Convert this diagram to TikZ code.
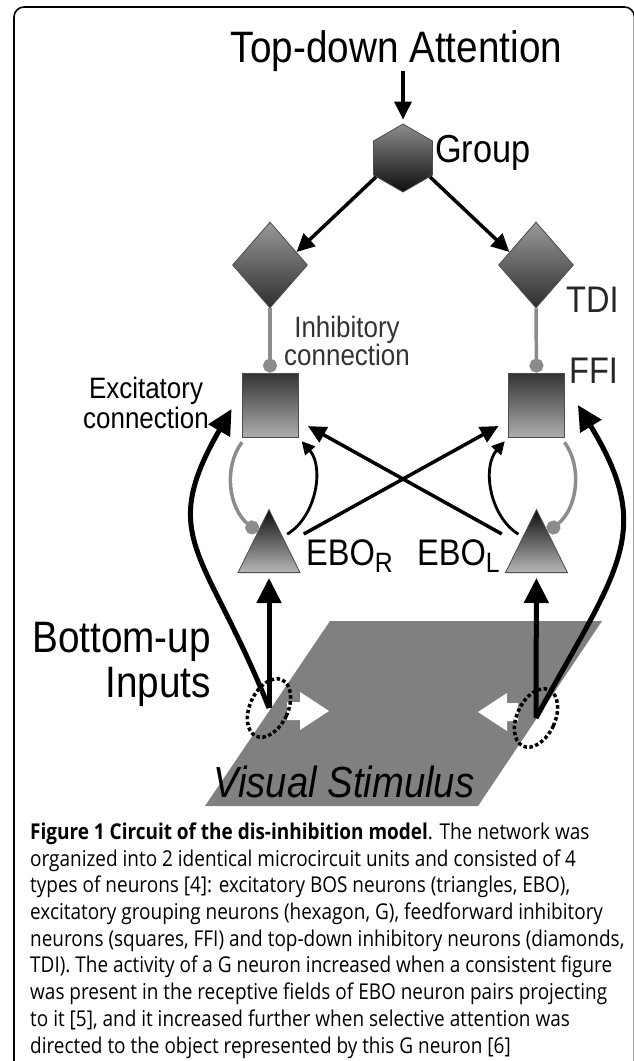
\documentclass[tikz,border=0pt]{standalone}
\usepackage{fontspec}
\setmainfont{Liberation Sans}
\newfontfamily\lblfont{Liberation Sans}[FakeStretch=0.88]
\newfontfamily\capfont{Open Sans}[FakeStretch=0.87]
\usetikzlibrary{arrows.meta,shapes.geometric,calc}
\tikzset{
    hexnode/.style={regular polygon,regular polygon sides=6,shape border rotate=90,minimum size=68pt,inner sep=0pt,draw=black!70,line width=0.8pt,top color=black!45,bottom color=black!95},
    tdinode/.style={diamond,minimum width=75pt,minimum height=86pt,inner sep=0pt,draw=black!70,line width=0.8pt,top color=black!40,bottom color=black!82},
    ffinode/.style={rectangle,minimum width=56pt,minimum height=64pt,inner sep=0pt,draw=black!70,line width=0.8pt,top color=black!80,bottom color=black!32},
    ebonode/.style={isosceles triangle,shape border rotate=90,isosceles triangle stretches,minimum width=62pt,minimum height=63pt,inner sep=0pt,draw=black!70,line width=0.8pt,top color=black!95,bottom color=black!28},
    srcnode/.style={ellipse,draw=black,line width=3.5pt,dash pattern=on 3.5pt off 2.5pt,minimum width=38pt,minimum height=62pt,inner sep=0pt,rotate=-25},
    lbl/.style={inner sep=0pt,font=\lblfont},
    excite/.style={line width=3.5pt,-{Triangle[length=18pt,width=17pt]}},
    excitesmall/.style={line width=2.8pt,-{Triangle[length=13pt,width=13pt]}},
    excitebig/.style={line width=5pt,-{Triangle[length=25pt,width=24pt]}},
    inhib/.style={line width=3.5pt,draw=black!45,-{Circle[length=14pt]}},
}

\begin{document}
\begin{tikzpicture}[x=1pt,y=-1pt]
    \useasboundingbox (0,0) rectangle (633,1061);
    \draw[line width=1.6pt,rounded corners=10pt] (14,1075) -- (14,7) -- (634.5,7) -- (634.5,1075);

    % stimulus plane
    \fill[gray] (330,621) -- (602,621) -- (478,806) -- (205,806) -- cycle;
    \fill[white] (287,702) -- (300,702) -- (300,692) -- (329,711) -- (300,730) -- (300,720) -- (287,720) -- cycle;
    \fill[white] (518,703) -- (507,703) -- (507,693) -- (478,712) -- (507,731) -- (507,721) -- (518,721) -- cycle;
    \node[lbl,anchor=base] (stim) at (344,797) {\fontsize{43.5}{43.5}\selectfont\itshape Visual Stimulus};

    % neurons
    \node[hexnode] (grp) at (403,158) {};
    \node[tdinode] (tdiL) at (270,265) {};
    \node[tdinode] (tdiR) at (536,265) {};
    \node[ffinode] (ffiL) at (270,405) {};
    \node[ffinode] (ffiR) at (536.5,405) {};
    \node[ebonode,anchor=south] (eboR) at (269,573) {};
    \node[ebonode,anchor=south] (eboL) at (536.5,573) {};
    \node[srcnode] (srcL) at (269,708) {};
    \node[srcnode] (srcR) at (536,718) {};

    % labels
    \node[lbl,anchor=base] (attn) at (396.5,62) {\fontsize{44}{44}\selectfont Top-down Attention};
    \node[lbl,anchor=base west] (grplbl) at (435,162) {\fontsize{39}{39}\selectfont Group};
    \node[lbl,anchor=base west,text=black!85] (tdilbl) at (566,312) {\fontsize{37}{37}\selectfont TDI};
    \node[lbl,anchor=base west,text=black!85] (ffilbl) at (569,383) {\fontsize{37}{37}\selectfont FFI};
    \node[lbl,anchor=base west] (eborlbl) at (306,565) {\fontsize{37}{37}\selectfont EBO\raisebox{-7pt}{\fontsize{28}{28}\selectfont R}};
    \node[lbl,anchor=base west] (ebollbl) at (417,565) {\fontsize{37}{37}\selectfont EBO\raisebox{-7pt}{\fontsize{28}{28}\selectfont L}};
    \node[lbl,anchor=base,align=center,text=black!80,font=\lblfont\fontsize{29.5}{28}\selectfont] (inhlbl) at (347,365) {Inhibitory\\connection};
    \node[lbl,anchor=base,align=center,font=\lblfont\fontsize{29.5}{30}\selectfont] (exclbl) at (146,428) {Excitatory\\connection};
    \node[lbl,anchor=base east,align=right,font=\lblfont\fontsize{44}{45}\selectfont] (bulbl) at (211,697) {Bottom-up\\Inputs};

    % connections
    \draw[excite,shorten >=4pt] (attn.south -| grp.north) -- (grp.north);
    \draw[excite] (grp.215) -- (tdiL.26);
    \draw[excite] (grp.-35) -- (tdiR.154);
    \draw[inhib] (tdiL.south) -- (ffiL.north);
    \draw[inhib] (tdiR.south) -- (ffiR.north);
    \draw[inhib,shorten <=6pt] (ffiL.-127) to[bend right=44] (eboR.118);
    \draw[inhib,shorten <=6pt] (ffiR.-53) to[bend left=44] (eboL.62);
    \draw[excitesmall,shorten <=5pt,shorten >=5pt] (eboR.50) to[bend right=50] (ffiL.south east);
    \draw[excitesmall,shorten <=5pt,shorten >=5pt] (eboL.130) to[bend left=50] (ffiR.south west);
    \draw[excite,shorten <=20pt,shorten >=11pt] (eboR) -- (ffiR);
    \draw[excite,shorten <=20pt,shorten >=11pt] (eboL) -- (ffiL);
    \draw[excitebig,shorten >=5pt] (srcL.center) -- (eboR);
    \draw[excitebig,shorten >=5pt] (srcR.center) -- (eboL);
    \draw[excitebig] (srcL.center) .. controls +(-63,-158) and +(-75,130) .. ($(ffiL.west)+(-10,4)$);
    \draw[excitebig] (srcR.center) .. controls +(82,-150) and +(78,128) .. ($(ffiR.east)+(13,0)$);

    % caption
    \node[anchor=base west,align=left,inner sep=0pt,font=\capfont\fontsize{21.8}{26.7}\selectfont] (caption) at (30,1053) {\textbf{Figure 1 Circuit of the dis-inhibition model}. The network was\\
organized into 2 identical microcircuit units and consisted of 4\\
types of neurons [4]: excitatory BOS neurons (triangles, EBO),\\
excitatory grouping neurons (hexagon, G), feedforward inhibitory\\
neurons (squares, FFI) and top-down inhibitory neurons (diamonds,\\
TDI). The activity of a G neuron increased when a consistent figure\\
was present in the receptive fields of EBO neuron pairs projecting\\
to it [5], and it increased further when selective attention was\\
directed to the object represented by this G neuron [6]};
\end{tikzpicture}
\end{document}
